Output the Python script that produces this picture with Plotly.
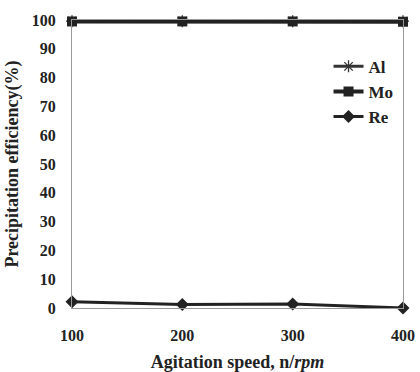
import plotly.graph_objects as go

speed = [100, 200, 300, 400]
al = [99.6, 99.6, 99.6, 99.6]
mo = [99.5, 99.5, 99.5, 99.4]
re = [2.2, 1.2, 1.4, 0.0]

FONT = "Liberation Serif"
fig = go.Figure()
fig.add_trace(go.Scatter(x=speed, y=al, name="<b>Al</b>", mode="lines+markers",
                         line=dict(color="#333333", width=3),
                         marker=dict(symbol="asterisk-open", size=10, line=dict(color="#555555", width=1.3)),
                         cliponaxis=False))
fig.add_trace(go.Scatter(x=speed, y=mo, name="<b>Mo</b>", mode="lines+markers",
                         line=dict(color="#222222", width=4),
                         marker=dict(symbol="square", size=10, color="#222222"),
                         cliponaxis=False))
fig.add_trace(go.Scatter(x=speed, y=re, name="<b>Re</b>", mode="lines+markers",
                         line=dict(color="#222222", width=3),
                         marker=dict(symbol="diamond", size=10, color="#222222"),
                         cliponaxis=False))

fig.update_layout(
    width=420, height=372,
    margin=dict(l=72, r=17, t=20, b=64),
    plot_bgcolor="white", paper_bgcolor="white",
    font=dict(family=FONT, size=16, color="#222222"),
    showlegend=True,
    legend=dict(x=0.775, y=0.90, xanchor="left", yanchor="top", bgcolor="rgba(0,0,0,0)",
                font=dict(family=FONT, size=17, color="#222222"), itemwidth=30,
                tracegroupgap=0),
    xaxis=dict(range=[100, 400], tickvals=speed, ticktext=["<b>%d</b>" % v for v in speed],
               showgrid=False, zeroline=False, showline=True, linecolor="#999999", linewidth=1,
               mirror=True, ticks="", ticklabelstandoff=13, automargin=False,
               title=dict(text="<b>Agitation speed, n/<i>rpm</i></b>", standoff=12,
                          font=dict(family=FONT, size=18, color="#222222"))),
    yaxis=dict(range=[0, 100], tickvals=list(range(0, 101, 10)),
               ticktext=["<b>%d</b>" % v for v in range(0, 101, 10)],
               showgrid=False, zeroline=False, showline=True, linecolor="#999999", linewidth=1,
               mirror=True, ticks="", ticklabelstandoff=12, automargin=False,
               title=dict(text="<b>Precipitation efficiency(%)</b>", standoff=8,
                          font=dict(family=FONT, size=18, color="#222222"))),
)
fig.write_html("out.html")
